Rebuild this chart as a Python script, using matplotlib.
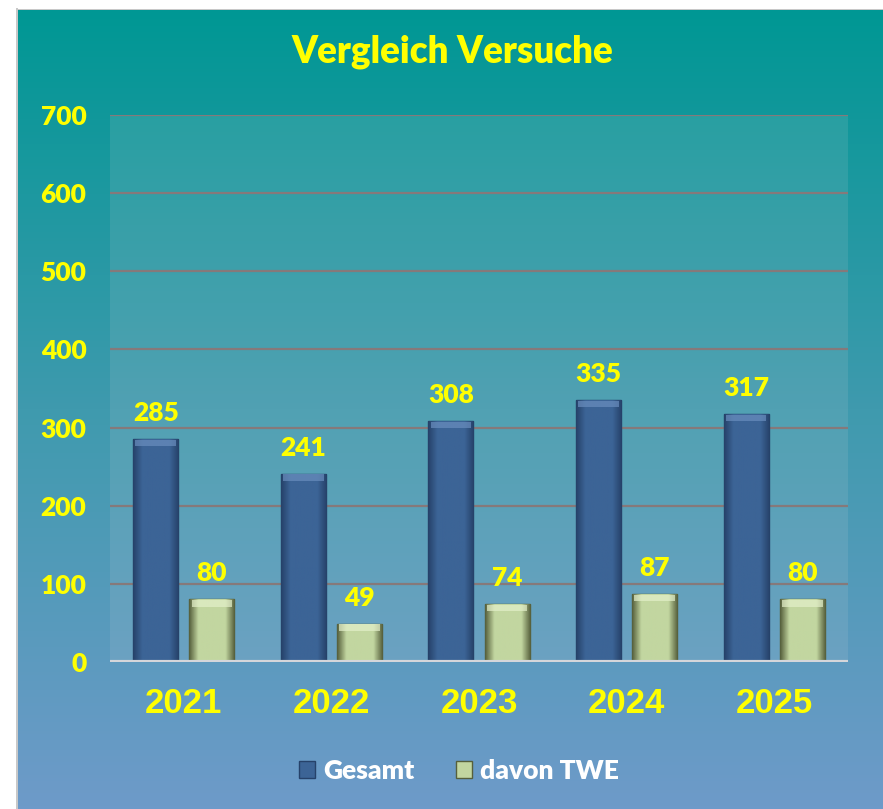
import numpy as np
import matplotlib
matplotlib.use("Agg")
import matplotlib.pyplot as plt
from matplotlib.colors import LinearSegmentedColormap
from matplotlib.patches import Rectangle

years = ["2021", "2022", "2023", "2024", "2025"]
gesamt = [285, 241, 308, 335, 317]
twe = [80, 49, 74, 87, 80]
series_names = ["Gesamt", "davon TWE"]

W, H = 883, 809
fig = plt.figure(figsize=(W / 100, H / 100), dpi=100, facecolor="white")

# background panel with vertical gradient
bg = fig.add_axes([17 / W, 0, 1 - 17 / W, 1 - 10 / H])
bg.set_axis_off()
grad = np.linspace(0, 1, 256).reshape(-1, 1)
bg_cmap = LinearSegmentedColormap.from_list("bg", ["#009794", "#3F9AAE", "#6E9AC9"])
bg.imshow(grad, aspect="auto", cmap=bg_cmap, extent=[0, 1, 0, 1], origin="upper")
bg.set_xlim(0, 1)
bg.set_ylim(0, 1)
fig.patches.append(Rectangle((16 / W, 0), 1.5 / W, 1 - 8 / H, transform=fig.transFigure,
                             facecolor="#C8C8C8", edgecolor="none"))
fig.patches.append(Rectangle((16 / W, 1 - 10 / H), 1, 1.5 / H, transform=fig.transFigure,
                             facecolor="#C8C8C8", edgecolor="none"))

ax = fig.add_axes([110 / W, 1 - 662 / H, 738 / W, 547 / H])
ax.set_facecolor((0.85, 0.85, 0.85, 0.12))
for s in ax.spines.values():
    s.set_visible(False)
ax.set_ylim(0, 700)
ax.set_xlim(-0.5, len(years) - 0.5)
ax.set_yticks(range(0, 701, 100))
ax.yaxis.grid(True, color="#86797A", linewidth=1.6)
ax.set_axisbelow(True)
ax.tick_params(length=0)

yfont = dict(family="Lato", weight="heavy", color="#FFFF00")
ax.set_yticklabels([str(v) for v in range(0, 701, 100)], fontsize=19, **yfont)
for lab in ax.get_yticklabels():
    lab.set_horizontalalignment("right")
ax.tick_params(axis="y", pad=17)
ax.set_xticks(range(len(years)))
ax.set_xticklabels(years, fontsize=25, family="Liberation Sans", weight="bold", color="#FFFF00")
ax.tick_params(axis="x", pad=18)

x = np.arange(len(years))
bw = 0.305
off = 0.19


def bevel_bar(xc, h, face, light, dark, label):
    b = ax.bar(xc, h, width=bw, color=face, edgecolor=dark, linewidth=1.0, zorder=3, label=label)[0]
    # horizontal shading clipped to bar
    shade = LinearSegmentedColormap.from_list("s", [dark, face, face, face, face, dark])
    im = ax.imshow(np.linspace(0, 1, 64).reshape(1, -1), cmap=shade, aspect="auto",
                   extent=[xc - bw / 2, xc + bw / 2, 0, h], zorder=3.5)
    im.set_clip_path(b)
    # lighter top bevel
    ax.bar(xc, 8, bottom=h - 9, width=bw * 0.9, color=light, alpha=0.7, linewidth=0, zorder=4)
    ax.set_xlim(-0.5, len(years) - 0.5)
    return b


for i in range(len(years)):
    bevel_bar(x[i] - off, gesamt[i], "#3C6496", "#6A8EBE", "#26426A", series_names[0] if i == 0 else None)
    bevel_bar(x[i] + off, twe[i], "#C2D6A0", "#E4F0CA", "#56603C", series_names[1] if i == 0 else None)
    ax.text(x[i] - off, gesamt[i] + 18, str(gesamt[i]), ha="center", va="bottom", fontsize=19, **yfont)
    ax.text(x[i] + off, twe[i] + 18, str(twe[i]), ha="center", va="bottom", fontsize=19, **yfont)

ax.set_ylim(0, 700)
ax.axhline(0, color="#D4D6DA", linewidth=3, zorder=5)

handles = [Rectangle((0, 0), 1, 1, facecolor="#3C6496", edgecolor="#26426A"),
           Rectangle((0, 0), 1, 1, facecolor="#C2D6A0", edgecolor="#56603C")]
leg = fig.legend(handles, series_names, loc="center", bbox_to_anchor=(459 / W, 1 - 771 / H),
                 ncol=2, frameon=False, handlelength=0.6, handleheight=0.6, handletextpad=0.3,
                 columnspacing=1.6, prop=dict(family="Lato", weight="heavy", size=19))
for t in leg.get_texts():
    t.set_color("white")

fig.text(452 / W, 1 - 52 / H, "Vergleich Versuche", ha="center", va="center",
         fontsize=26.5, family="Lato", weight="heavy", color="#FFFF00")

fig.savefig("out.png", dpi=100, facecolor="white")
